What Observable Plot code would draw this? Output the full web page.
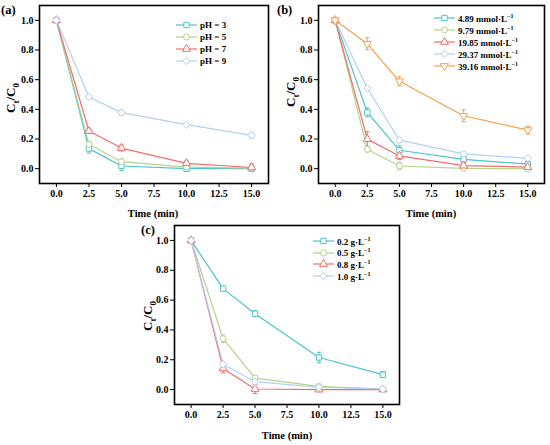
<!DOCTYPE html>
<html><head><meta charset="utf-8">
<script src="https://cdn.jsdelivr.net/npm/d3@7"></script>
<script src="https://cdn.jsdelivr.net/npm/@observablehq/plot@0.6"></script>
<style>
body{margin:0;background:#fff}
#root{position:relative;width:550px;height:445px;font-family:"Liberation Serif",serif;font-weight:bold;color:#000;overflow:hidden}
.abs{position:absolute;white-space:nowrap}
.ylab{font-size:13px;transform:translate(-50%,-50%) rotate(-90deg)}
.ylab sub{font-size:9px}
.xlab{font-size:10.5px;transform:translate(-50%,-50%)}
.plab{font-size:12.5px}
.leg{font-size:9px;display:flex;align-items:center;height:12px}
.leg sup{font-size:6px;vertical-align:4px}
</style></head>
<body><div id="root"></div>
<script>
const times = [0, 2.5, 5, 10, 15];
const xTicks = [0, 2.5, 5, 7.5, 10, 12.5, 15];
const yTicks = [0, 0.2, 0.4, 0.6, 0.8, 1.0];

// Panel (a)
const aLabels = ["pH = 3", "pH = 5", "pH = 7", "pH = 9"];
const aValues = [
  [1.0, 0.135, 0.018, 0.0, 0.0],
  [1.0, 0.164, 0.047, 0.011, 0.004],
  [1.0, 0.254, 0.139, 0.036, 0.008],
  [1.0, 0.483, 0.378, 0.297, 0.225]
];
const aErrors = [
  [0, 0.03, 0.03, 0.02, 0.02],
  [0, 0.02, 0.02, 0.015, 0.02],
  [0, 0.015, 0.02, 0.015, 0.025],
  [0, 0.015, 0.02, 0.012, 0.02]
];
const aColors = ["#4ec3cc", "#b4d48c", "#f26d6d", "#b3cff4"];
const aSymbols = ["square", "circle", "triangle", "diamond"];

// Panel (b)
const bLabels = ["4.89", "9.79", "19.85", "29.37", "39.16"];
const bValues = [
  [1.0, 0.379, 0.124, 0.063, 0.03],
  [1.0, 0.131, 0.018, 0.002, 0.0],
  [1.0, 0.199, 0.086, 0.02, 0.011],
  [1.0, 0.542, 0.192, 0.10, 0.07],
  [1.0, 0.842, 0.589, 0.357, 0.26]
];
const bErrors = [
  [0, 0.03, 0.03, 0.02, 0.015],
  [0, 0.02, 0.025, 0.015, 0.01],
  [0, 0.05, 0.025, 0.015, 0.015],
  [0, 0.015, 0.015, 0.015, 0.01],
  [0, 0.04, 0.03, 0.04, 0.025]
];
const bColors = ["#4ec3cc", "#b4d48c", "#f26d6d", "#b3cff4", "#f7a04e"];
const bSymbols = ["square", "circle", "triangle", "diamond", "triangleDown"];

// Panel (c)
const cLabels = ["0.2", "0.5", "0.8", "1.0"];
const cValues = [
  [1.0, 0.677, 0.509, 0.215, 0.10],
  [1.0, 0.341, 0.077, 0.022, 0.004],
  [1.0, 0.142, 0.004, 0.0, 0.0],
  [1.0, 0.17, 0.053, 0.015, 0.004]
];
const cErrors = [
  [0, 0.015, 0.02, 0.035, 0.02],
  [0, 0.025, 0.015, 0.01, 0.01],
  [0, 0.03, 0.03, 0.015, 0.01],
  [0, 0.015, 0.015, 0.01, 0.01]
];
const cColors = ["#4ec3cc", "#b4d48c", "#f26d6d", "#b3cff4"];
const cSymbols = ["square", "circle", "triangle", "diamond"];

const symTriangleDown = {
  draw(ctx, size) {
    const y = -Math.sqrt(size / (Math.sqrt(3) * 3));
    ctx.moveTo(0, -y * 2);
    ctx.lineTo(-Math.sqrt(3) * y, y);
    ctx.lineTo(Math.sqrt(3) * y, y);
    ctx.closePath();
  }
};
const symDiamond = {
  draw(ctx, size) {
    const r = Math.sqrt(size / 2);
    ctx.moveTo(0, -r); ctx.lineTo(r, 0); ctx.lineTo(0, r); ctx.lineTo(-r, 0); ctx.closePath();
  }
};
const symCap = {
  draw(ctx, size) {
    const w = Math.sqrt(size) / 2;
    ctx.moveTo(-w, 0); ctx.lineTo(w, 0);
  }
};
const symbolMap = {
  square: d3.symbolSquare, circle: d3.symbolCircle, triangle: d3.symbolTriangle,
  diamond: symDiamond, triangleDown: symTriangleDown
};

const root = document.getElementById("root");

function panel({left, top, width, height, margins, values, errors, colors, symbols}) {
  const marks = [];
  values.forEach((vals, i) => {
    const data = times.map((t, j) => ({t, v: vals[j], e: errors[i][j]}));
    const eb = data.filter(d => d.e > 0);
    marks.push(Plot.line(data, {x: "t", y: "v", stroke: colors[i], strokeWidth: 1.2}));
    marks.push(Plot.ruleX(eb, {x: "t", y1: d => d.v - d.e, y2: d => d.v + d.e, stroke: colors[i], strokeWidth: 1}));
    marks.push(Plot.dot(eb, {x: "t", y: d => d.v - d.e, symbol: symCap, r: 2.6, stroke: colors[i], strokeWidth: 1}));
    marks.push(Plot.dot(eb, {x: "t", y: d => d.v + d.e, symbol: symCap, r: 2.6, stroke: colors[i], strokeWidth: 1}));
  });
  values.forEach((vals, i) => {
    const data = times.map((t, j) => ({t, v: vals[j]}));
    marks.push(Plot.dot(data, {x: "t", y: "v", symbol: symbolMap[symbols[i]], r: 3, fill: "white", stroke: colors[i], strokeWidth: 1}));
  });
  marks.push(Plot.frame({stroke: "black", strokeWidth: 1.6}));
  marks.push(Plot.axisX({ticks: xTicks, tickFormat: d3.format(".1f"), tickSize: 4, tickPadding: 2, label: null, fontWeight: "bold"}));
  marks.push(Plot.axisY({ticks: yTicks, tickFormat: d3.format(".1f"), tickSize: 4, tickPadding: 2, label: null, fontWeight: "bold"}));
  const svg = Plot.plot({
    width, height,
    marginLeft: margins[0], marginRight: margins[1], marginTop: margins[2], marginBottom: margins[3],
    x: {domain: [-1.3, 16.3]},
    y: {domain: [-0.1, 1.1]},
    style: {fontFamily: "Liberation Serif, serif", fontSize: "10px", fontWeight: "bold", background: "transparent", overflow: "visible"},
    marks
  });
  svg.style.position = "absolute";
  svg.style.left = left + "px";
  svg.style.top = top + "px";
  root.appendChild(svg);
}

function addText(cls, html, x, y) {
  const d = document.createElement("div");
  d.className = "abs " + cls;
  d.innerHTML = html;
  d.style.left = x + "px";
  d.style.top = y + "px";
  root.appendChild(d);
  return d;
}

function legend(x, y, step, labels, colors, symbols, fmt) {
  labels.forEach((lab, i) => {
    const row = addText("leg", "", x, y + i * step - 6);
    const s = d3.create("svg").attr("width", 22).attr("height", 10).style("margin-right", "2px");
    s.append("line").attr("x1", 0).attr("x2", 21).attr("y1", 5).attr("y2", 5).attr("stroke", colors[i]).attr("stroke-width", 1.2);
    s.append("path").attr("transform", "translate(10.5,5)").attr("d", d3.symbol(symbolMap[symbols[i]], 28)()).attr("fill", "white").attr("stroke", colors[i]);
    row.appendChild(s.node());
    const t = document.createElement("span");
    t.innerHTML = fmt(lab);
    row.appendChild(t);
  });
}

const ylabHtml = "C<sub>t</sub>/C<sub>0</sub>";

// (a)
panel({left: 0, top: 0, width: 275, height: 220, margins: [39, 7, 5, 37], values: aValues, errors: aErrors, colors: aColors, symbols: aSymbols});
addText("plab", "(a)", 1, 3);
addText("ylab", ylabHtml, 12, 98);
addText("xlab", "Time (min)", 153, 213);
legend(176, 25, 12, aLabels, aColors, aSymbols, l => l);

// (b)
panel({left: 275, top: 0, width: 275, height: 220, margins: [43, 6, 5, 37], values: bValues, errors: bErrors, colors: bColors, symbols: bSymbols});
addText("plab", "(b)", 277, 3);
addText("ylab", ylabHtml, 292, 92);
addText("xlab", "Time (min)", 431, 213);
legend(434, 18, 12, bLabels, bColors, bSymbols, l => l + " mmol·L<sup>−1</sup>");

// (c)
panel({left: 130, top: 220, width: 275, height: 225, margins: [44, 6, 5, 41], values: cValues, errors: cErrors, colors: cColors, symbols: cSymbols});
addText("plab", "(c)", 141, 223);
addText("ylab", ylabHtml, 149, 316);
addText("xlab", "Time (min)", 287, 435);
legend(313, 241, 11.7, cLabels, cColors, cSymbols, l => l + " g·L<sup>−1</sup>");
</script>
</body></html>
